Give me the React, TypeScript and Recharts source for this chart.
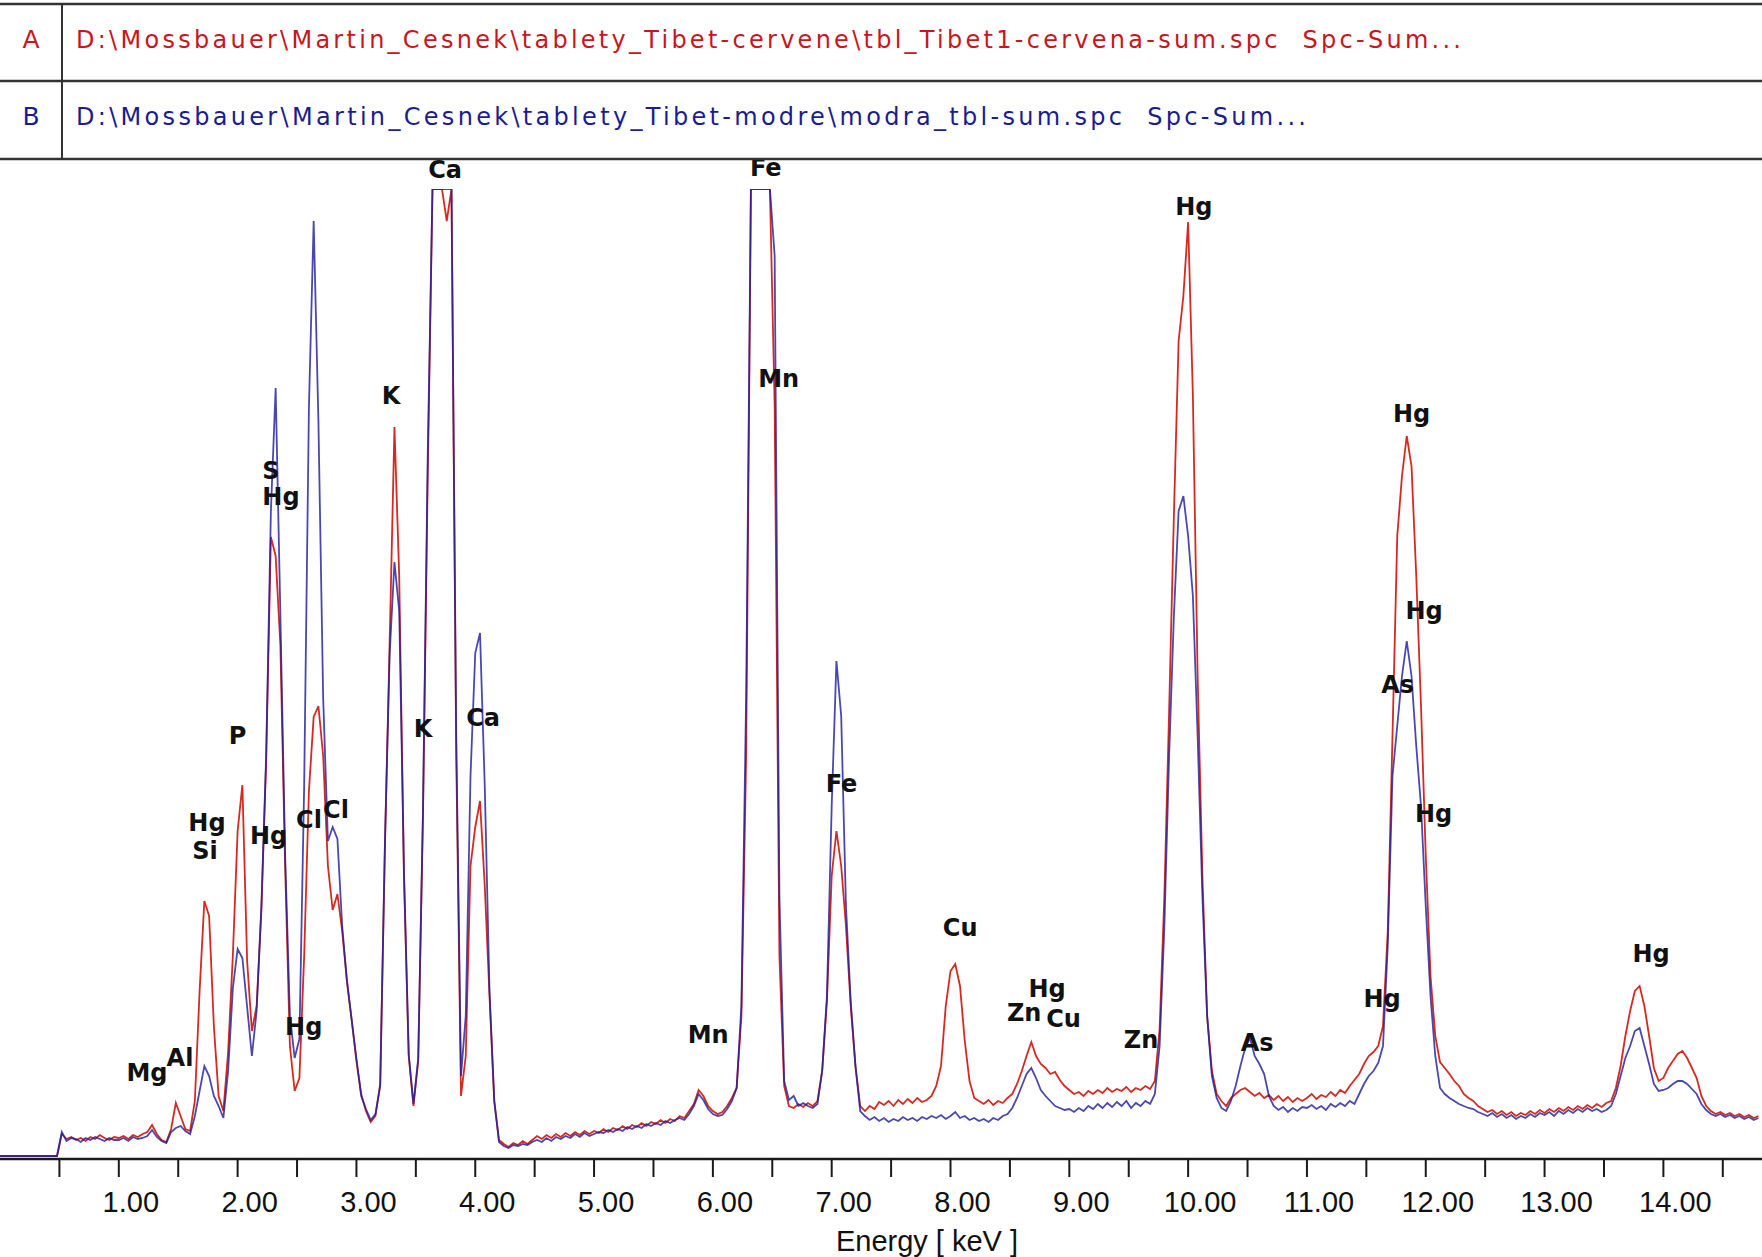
import React from 'react';
import { LineChart, Line, XAxis, YAxis, ReferenceDot } from 'recharts';

// spectrometer calibration: channel i sits at E_START + i * E_STEP keV
const E_START = 0;
const E_STEP = 0.04;

// red spectrum (A) - counts above baseline, one row per keV
const countsA = [
  0, 0, 0, 0, 0, 0, 0, 0, 0, 0, 0, 0, 0, 22, 17, 19, 16, 18, 15, 19, 17, 21, 18, 16, 19,
  18, 20, 17, 21, 19, 22, 24, 31, 22, 16, 14, 27, 53, 40, 27, 25, 55, 165, 255, 240, 130, 60, 45, 104, 201,
  325, 371, 195, 125, 150, 246, 394, 619, 600, 510, 290, 110, 65, 78, 200, 365, 439, 450, 400, 290, 246, 262, 225, 175, 136,
  95, 62, 45, 34, 40, 72, 310, 516, 729, 580, 280, 100, 50, 95, 340, 680, 967, 967, 967, 935, 967, 400, 60, 100, 290,
  329, 355, 270, 160, 55, 16, 12, 9, 13, 11, 15, 12, 16, 20, 17, 21, 18, 22, 19, 23, 20, 24, 21, 25, 22,
  25, 23, 27, 24, 28, 26, 30, 27, 31, 29, 33, 30, 34, 32, 36, 33, 37, 35, 40, 38, 45, 52, 66, 60, 50,
  45, 42, 44, 50, 58, 68, 140, 400, 967, 967, 967, 967, 967, 750, 200, 70, 50, 48, 52, 49, 53, 50, 55, 85, 155,
  280, 325, 290, 230, 150, 90, 50, 45, 50, 47, 54, 51, 55, 50, 56, 52, 57, 53, 58, 54, 56, 60, 70, 90, 150,
  185, 192, 170, 115, 75, 58, 55, 52, 56, 51, 55, 53, 58, 62, 72, 85, 100, 114, 100, 92, 88, 82, 84, 76, 70,
  66, 62, 64, 60, 65, 62, 66, 63, 68, 64, 67, 65, 69, 64, 68, 66, 70, 67, 75, 127, 260, 445, 640, 815, 860,
  934, 760, 480, 280, 140, 85, 62, 55, 50, 58, 62, 66, 68, 64, 60, 63, 58, 61, 56, 60, 55, 59, 54, 58, 55,
  58, 62, 57, 61, 59, 64, 60, 66, 63, 70, 76, 82, 92, 100, 104, 110, 130, 224, 420, 620, 680, 720, 690, 580, 450,
  300, 180, 120, 94, 88, 82, 75, 70, 62, 58, 55, 50, 47, 44, 46, 42, 45, 41, 44, 40, 43, 41, 45, 42, 46,
  43, 47, 44, 48, 45, 49, 46, 50, 47, 51, 48, 52, 49, 53, 55, 68, 90, 120, 145, 165, 170, 150, 120, 88, 75,
  78, 88, 95, 102, 105, 98, 88, 78, 60, 50, 45, 42, 44, 41, 43, 40, 42, 39, 41, 38, 40,
];

// blue spectrum (B)
const countsB = [
  0, 0, 0, 0, 0, 0, 0, 0, 0, 0, 0, 0, 0, 24, 15, 18, 17, 14, 18, 16, 19, 17, 15, 18, 16,
  16, 18, 15, 19, 17, 18, 20, 26, 19, 15, 13, 24, 28, 30, 25, 22, 40, 65, 90, 80, 60, 50, 38, 85, 168,
  207, 198, 149, 100, 145, 250, 400, 645, 768, 540, 300, 140, 98, 117, 370, 748, 935, 735, 458, 315, 329, 317, 230, 175, 136,
  97, 60, 47, 36, 42, 70, 315, 503, 594, 545, 285, 102, 52, 98, 345, 700, 967, 967, 967, 967, 967, 420, 80, 140, 380,
  503, 523, 370, 165, 55, 14, 10, 8, 11, 10, 12, 11, 14, 16, 14, 18, 15, 19, 17, 20, 18, 22, 19, 23, 20,
  22, 24, 23, 26, 24, 27, 25, 29, 27, 30, 28, 32, 30, 33, 31, 35, 33, 36, 38, 36, 42, 50, 62, 56, 47,
  42, 40, 41, 47, 55, 68, 150, 460, 967, 967, 967, 967, 967, 900, 260, 75, 56, 60, 50, 53, 50, 48, 52, 85, 160,
  350, 495, 440, 250, 155, 90, 45, 40, 36, 39, 35, 38, 34, 37, 35, 39, 36, 38, 35, 39, 37, 40, 38, 41, 37,
  40, 44, 38, 40, 36, 38, 35, 37, 34, 38, 36, 40, 42, 48, 58, 70, 82, 88, 78, 66, 60, 55, 50, 48, 46,
  47, 44, 48, 45, 50, 47, 52, 48, 53, 49, 54, 50, 55, 48, 53, 50, 55, 52, 62, 110, 230, 400, 540, 645, 660,
  620, 560, 420, 260, 140, 80, 58, 48, 45, 55, 70, 90, 108, 118, 100, 92, 82, 60, 50, 46, 49, 44, 48, 45, 49,
  48, 51, 47, 50, 46, 52, 49, 53, 50, 55, 52, 62, 72, 80, 85, 93, 110, 210, 380, 430, 480, 515, 480, 410, 350,
  250, 160, 100, 68, 62, 58, 55, 52, 50, 48, 47, 44, 42, 40, 43, 39, 42, 38, 41, 37, 40, 38, 42, 39, 43,
  41, 44, 40, 45, 42, 46, 43, 47, 44, 48, 45, 47, 44, 46, 50, 62, 80, 98, 110, 125, 128, 110, 92, 72, 65,
  66, 68, 72, 75, 75, 72, 67, 62, 52, 46, 42, 40, 42, 39, 41, 38, 40, 37, 39, 36, 38,
];

const energyTicks = [
  0.5, 1, 1.5, 2, 2.5, 3, 3.5, 4, 4.5, 5, 5.5, 6, 6.5, 7, 7.5,
  8, 8.5, 9, 9.5, 10, 10.5, 11, 11.5, 12, 12.5, 13, 13.5, 14, 14.5,
];

// element markers: energy (keV) and height (counts) of the label centre
const peakLabels = [
  { el: 'Mg', e: 1.237, v: 83 },
  { el: 'Al', e: 1.515, v: 98 },
  { el: 'Hg', e: 1.742, v: 333 },
  { el: 'Si', e: 1.726, v: 305 },
  { el: 'P', e: 1.999, v: 420 },
  { el: 'S', e: 2.281, v: 685 },
  { el: 'Hg', e: 2.365, v: 659 },
  { el: 'Hg', e: 2.261, v: 320 },
  { el: 'Hg', e: 2.556, v: 129 },
  { el: 'Cl', e: 2.601, v: 336 },
  { el: 'Cl', e: 2.828, v: 346 },
  { el: 'K', e: 3.291, v: 760 },
  { el: 'K', e: 3.561, v: 427 },
  { el: 'Ca', e: 3.746, v: 986 },
  { el: 'Ca', e: 4.066, v: 438 },
  { el: 'Mn', e: 5.96, v: 121 },
  { el: 'Fe', e: 6.445, v: 988 },
  { el: 'Mn', e: 6.554, v: 777 },
  { el: 'Fe', e: 7.083, v: 372 },
  { el: 'Cu', e: 8.081, v: 228 },
  { el: 'Zn', e: 8.62, v: 143 },
  { el: 'Hg', e: 8.813, v: 167 },
  { el: 'Cu', e: 8.952, v: 137 },
  { el: 'Zn', e: 9.604, v: 116 },
  { el: 'Hg', e: 10.048, v: 949 },
  { el: 'As', e: 10.581, v: 113 },
  { el: 'Hg', e: 11.633, v: 157 },
  { el: 'As', e: 11.764, v: 471 },
  { el: 'Hg', e: 11.881, v: 742 },
  { el: 'Hg', e: 11.986, v: 545 },
  { el: 'Hg', e: 12.066, v: 342 },
  { el: 'Hg', e: 13.897, v: 202 },
];

const RED = '#d42a22';
const BLUE = '#22209e';
const SANS = '"Liberation Sans", Arial, sans-serif';
const HEAD = '"DejaVu Sans", Verdana, sans-serif';

const files = [
  { tag: 'A', path: 'D:\\Mossbauer\\Martin_Cesnek\\tablety_Tibet-cervene\\tbl_Tibet1-cervena-sum.spc  Spc-Sum...', color: '#c8161e', len: 1385 },
  { tag: 'B', path: 'D:\\Mossbauer\\Martin_Cesnek\\tablety_Tibet-modre\\modra_tbl-sum.spc  Spc-Sum...', color: '#1c1c8e', len: 1230 },
];

const rows = countsA.map((a, i) => ({
  e: +(E_START + i * E_STEP).toFixed(2),
  a,
  b: countsB[i],
}));

const EnergyTick = (props: any) => {
  const { x, y, payload } = props;
  if (payload.value % 1 !== 0) return <g />;
  return (
    <text x={x + 12} y={y + 33} textAnchor="middle" fontSize={29} fontFamily={SANS} fill="#111">
      {payload.value.toFixed(2)}
    </text>
  );
};

const Header = () => (
  <svg width={1762} height={1257} style={{ position: 'absolute', left: 0, top: 0, pointerEvents: 'none' }}>
    <line x1={0} x2={1762} y1={4} y2={4} stroke="#333" strokeWidth={2.5} />
    <line x1={0} x2={1762} y1={81} y2={81} stroke="#333" strokeWidth={2.5} />
    <line x1={0} x2={1762} y1={159} y2={159} stroke="#333" strokeWidth={2.5} />
    <line x1={62} x2={62} y1={4} y2={159} stroke="#333" strokeWidth={2} />
    {files.map((f, i) => (
      <g key={f.tag}>
        <text x={31} y={48 + i * 77} textAnchor="middle" fontSize={25} fontFamily={HEAD} fill={f.color}>
          {f.tag}
        </text>
        <text
          x={76}
          y={48 + i * 77}
          fontSize={24}
          fontFamily={HEAD}
          fill={f.color}
          textLength={f.len}
          lengthAdjust="spacing"
          style={{ whiteSpace: 'pre' }}
        >
          {f.path}
        </text>
      </g>
    ))}
    <text x={927} y={1251} textAnchor="middle" fontSize={29} fontFamily={SANS} fill="#111">
      Energy [ keV ]
    </text>
  </svg>
);

export default function App() {
  return (
    <div style={{ position: 'absolute', left: 0, top: 0, width: 1762, height: 1257, background: '#fff' }}>
      <LineChart width={1762} height={1257} data={rows} margin={{ top: 189, right: 0, bottom: 0, left: 0 }}>
        <XAxis
          dataKey="e"
          type="number"
          domain={[0, 14.83]}
          allowDataOverflow
          ticks={energyTicks}
          interval={0}
          height={98}
          tickSize={18}
          axisLine={{ stroke: '#1a1a1a', strokeWidth: 2.5 }}
          tickLine={{ stroke: '#1a1a1a', strokeWidth: 2 }}
          tick={<EnergyTick />}
        />
        <YAxis hide type="number" domain={[-3, 967]} allowDataOverflow />
        <Line
          dataKey="a"
          type="linear"
          stroke={RED}
          strokeWidth={1.8}
          dot={false}
          isAnimationActive={false}
        />
        <Line
          dataKey="b"
          type="linear"
          stroke={BLUE}
          strokeWidth={1.8}
          strokeOpacity={0.82}
          dot={false}
          isAnimationActive={false}
        />
        {peakLabels.map((p, i) => (
          <ReferenceDot
            key={i}
            x={p.e}
            y={p.v}
            r={0}
            ifOverflow="visible"
            shape={(s: any) => (
              <text
                x={s.cx}
                y={s.cy}
                textAnchor="middle"
                dominantBaseline="central"
                fontSize={24}
                fontWeight="bold"
                fontFamily={HEAD}
                fill="#111"
              >
                {p.el}
              </text>
            )}
          />
        ))}
      </LineChart>
      <Header />
    </div>
  );
}
